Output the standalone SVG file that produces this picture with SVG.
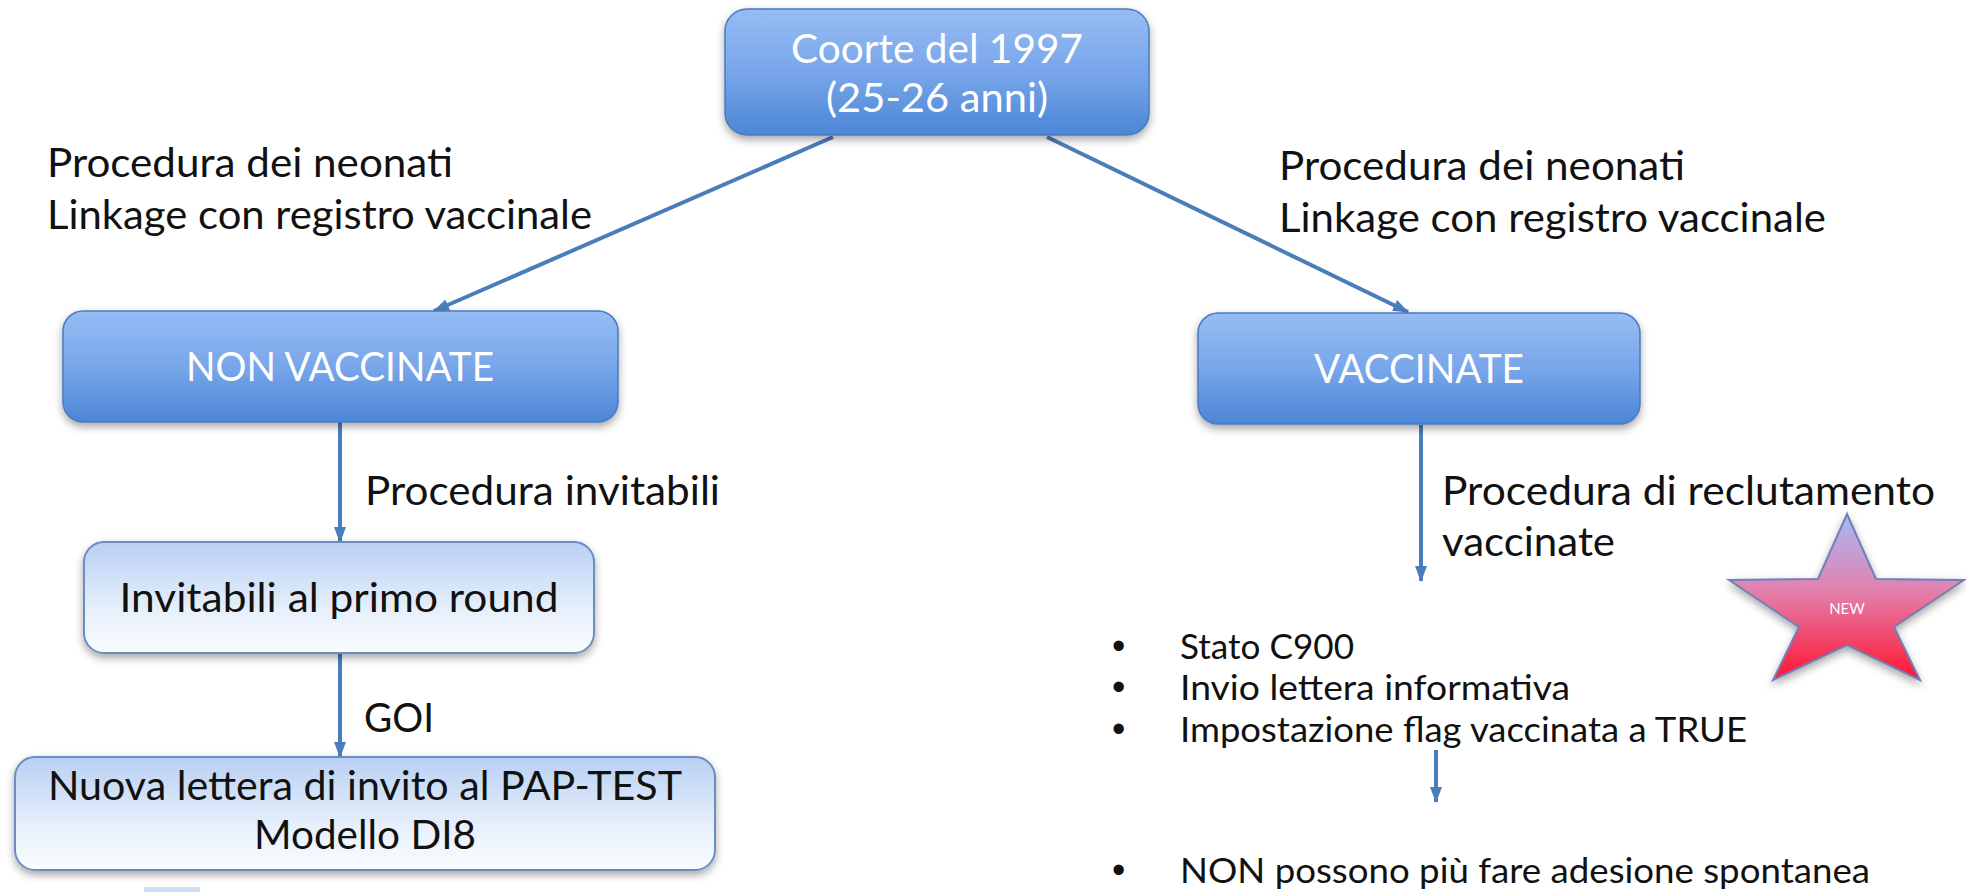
<svg xmlns="http://www.w3.org/2000/svg" width="1966" height="892" viewBox="0 0 1966 892">
<defs>
<linearGradient id="gBlue" x1="0" y1="0" x2="0" y2="1">
<stop offset="0" stop-color="#97bcf4"/>
<stop offset="0.5" stop-color="#78a6ea"/>
<stop offset="1" stop-color="#4c86d6"/>
</linearGradient>
<linearGradient id="gLight" x1="0" y1="0" x2="0" y2="1">
<stop offset="0" stop-color="#b8d0f3"/>
<stop offset="0.6" stop-color="#e6effb"/>
<stop offset="1" stop-color="#fbfdff"/>
</linearGradient>
<linearGradient id="gStar" x1="0" y1="0" x2="0" y2="1">
<stop offset="0" stop-color="#a6b8f4"/>
<stop offset="0.45" stop-color="#e283b0"/>
<stop offset="1" stop-color="#ff1430"/>
</linearGradient>
<filter id="sh" x="-10%" y="-10%" width="120%" height="130%">
<feDropShadow dx="0" dy="4" stdDeviation="4" flood-color="#000" flood-opacity="0.35"/>
</filter>
<marker id="arr" markerUnits="userSpaceOnUse" markerWidth="16" markerHeight="16" viewBox="0 0 16 16" refX="15" refY="8" orient="auto">
<path d="M0,2 L16,8 L0,14 z" fill="#4a7ebb"/>
</marker>
<style>
.blue{fill:url(#gBlue);stroke:#4a7bbd;stroke-width:1.5;filter:url(#sh)}
.light{fill:url(#gLight);stroke:#6b8dc2;stroke-width:2;filter:url(#sh)}
.wt{font-family:Lato,"Open Sans","Liberation Sans",sans-serif;font-size:40px;fill:#ffffff;text-anchor:middle}
.bt{font-family:Lato,"Open Sans","Liberation Sans",sans-serif;font-size:40px;fill:#111111}
.bc{font-family:Lato,"Open Sans","Liberation Sans",sans-serif;font-size:40px;fill:#111111;text-anchor:middle}
.lt{font-family:Lato,"Open Sans","Liberation Sans",sans-serif;font-size:34px;fill:#111111}
.bu{font-family:"Liberation Sans",sans-serif;font-size:38px;fill:#111111}
.edge{stroke:#4a7ebb;stroke-width:4;fill:none}
</style>
</defs>
<rect width="1966" height="892" fill="#ffffff"/>

<g id="connectors">
<line class="edge" x1="833" y1="137" x2="434" y2="311" marker-end="url(#arr)"/>
<line class="edge" x1="1047" y1="137" x2="1408" y2="312" marker-end="url(#arr)"/>
<line class="edge" x1="340" y1="422" x2="340" y2="542" marker-end="url(#arr)"/>
<line class="edge" x1="340" y1="654" x2="340" y2="757" marker-end="url(#arr)"/>
<line class="edge" x1="1421" y1="425" x2="1421" y2="581" marker-end="url(#arr)"/>
<line class="edge" x1="1436" y1="750" x2="1436" y2="802" marker-end="url(#arr)"/>
</g>

<g id="labels">
<text class="bt" x="47" y="177" textLength="406" lengthAdjust="spacingAndGlyphs">Procedura dei neonati</text>
<text class="bt" x="47" y="229" textLength="545" lengthAdjust="spacingAndGlyphs">Linkage con registro vaccinale</text>
<text class="bt" x="1279" y="180" textLength="406" lengthAdjust="spacingAndGlyphs">Procedura dei neonati</text>
<text class="bt" x="1279" y="232" textLength="547" lengthAdjust="spacingAndGlyphs">Linkage con registro vaccinale</text>
<text class="bt" x="365" y="505" textLength="355" lengthAdjust="spacingAndGlyphs">Procedura invitabili</text>
<text class="bt" x="364" y="732" textLength="70" lengthAdjust="spacingAndGlyphs">GOI</text>
<text class="bt" x="1442" y="505" textLength="493" lengthAdjust="spacingAndGlyphs">Procedura di reclutamento</text>
<text class="bt" x="1442" y="556" textLength="173" lengthAdjust="spacingAndGlyphs">vaccinate</text>
</g>

<g id="node-coorte">
<rect class="blue" x="725" y="9" width="424" height="126" rx="22"/>
<text class="wt" x="937" y="63" textLength="292" lengthAdjust="spacingAndGlyphs">Coorte del 1997</text>
<text class="wt" x="937" y="112" textLength="222" lengthAdjust="spacingAndGlyphs">(25-26 anni)</text>
</g>

<g id="node-non-vaccinate">
<rect class="blue" x="63" y="311" width="555" height="111" rx="20"/>
<text class="wt" x="340" y="381" textLength="308" lengthAdjust="spacingAndGlyphs">NON VACCINATE</text>
</g>

<g id="node-vaccinate">
<rect class="blue" x="1198" y="313" width="442" height="111" rx="20"/>
<text class="wt" x="1419" y="383" textLength="210" lengthAdjust="spacingAndGlyphs">VACCINATE</text>
</g>

<g id="node-invitabili">
<rect class="light" x="84" y="542" width="510" height="111" rx="20"/>
<text class="bc" x="339" y="612" textLength="439" lengthAdjust="spacingAndGlyphs">Invitabili al primo round</text>
</g>

<g id="node-nuova-lettera">
<rect class="light" x="15" y="757" width="700" height="113" rx="20"/>
<text class="bc" x="365" y="800" textLength="634" lengthAdjust="spacingAndGlyphs">Nuova lettera di invito al PAP-TEST</text>
<text class="bc" x="365" y="849" textLength="222" lengthAdjust="spacingAndGlyphs">Modello DI8</text>
</g>

<g id="list-vaccinate">
<text class="bu" x="1112" y="659">•</text>
<text class="lt" x="1180" y="659" textLength="174" lengthAdjust="spacingAndGlyphs">Stato C900</text>
<text class="bu" x="1112" y="700">•</text>
<text class="lt" x="1180" y="700" textLength="390" lengthAdjust="spacingAndGlyphs">Invio lettera informativa</text>
<text class="bu" x="1112" y="742">•</text>
<text class="lt" x="1180" y="742" textLength="567" lengthAdjust="spacingAndGlyphs">Impostazione flag vaccinata a TRUE</text>
<text class="bu" x="1112" y="883">•</text>
<text class="lt" x="1180" y="883" textLength="690" lengthAdjust="spacingAndGlyphs">NON possono più fare adesione spontanea</text>
</g>

<g id="star-new">
<polygon points="1847,514 1876,579 1964,580 1894,627 1920,680 1847,645 1773,680 1799,627 1729,580 1818,579" fill="url(#gStar)" stroke="#6f7fb5" stroke-width="2" stroke-linejoin="miter" filter="url(#sh)"/>
<text x="1847" y="614" font-family="Lato,'Open Sans',sans-serif" font-size="15" fill="#ffffff" text-anchor="middle">NEW</text>
</g>

<rect x="144" y="887" width="56" height="5" fill="#cfe0f6"/>
</svg>
